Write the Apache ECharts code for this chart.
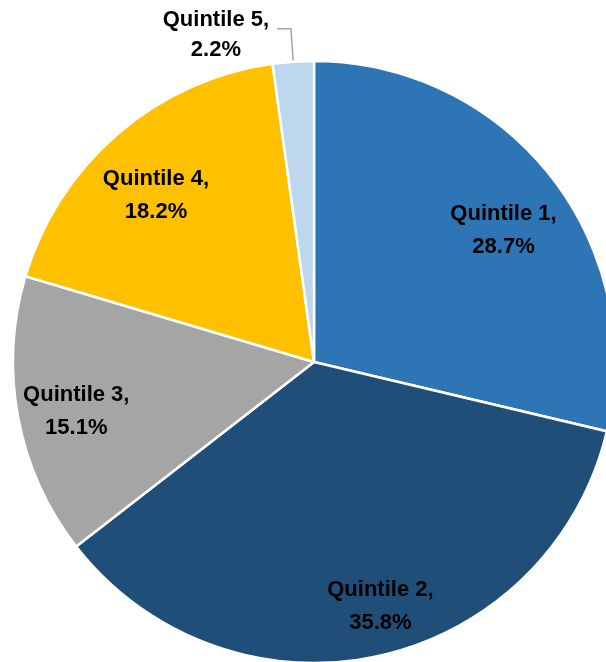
<!DOCTYPE html>
<html>
<head>
<meta charset="utf-8">
<script src="https://cdn.jsdelivr.net/npm/echarts@6/dist/echarts.min.js"></script>
<style>
html,body{margin:0;padding:0;background:#fff;}
#chart{width:606px;height:662px;}
</style>
</head>
<body>
<div id="chart"></div>
<script>
const categories = ['Quintile 1', 'Quintile 2', 'Quintile 3', 'Quintile 4', 'Quintile 5'];
const values = [28.7, 35.8, 15.1, 18.2, 2.2];
const colors = ['#2E75B6', '#1F4E79', '#A5A5A5', '#FFC000', '#BDD7EE'];
const outsideLabels = ['Quintile 5'];

const FONT = '"Liberation Sans", Arial, sans-serif';
const R = 301;
const center = [314, 362];
// small label nudges (styling only)
const labelOffsets = { 'Quintile 1': [3, 16], 'Quintile 2': [16, 12], 'Quintile 3': [-4, 6], 'Quintile 4': [-3, 14], 'Quintile 5': [-3, 6] };

const mainData = categories.map((c, i) => ({
  name: c,
  value: values[i],
  itemStyle: { color: colors[i] },
  label: outsideLabels.includes(c) ? {
    show: true,
    position: 'outside',
    offset: labelOffsets[c],
    formatter: p => '{a|' + p.name + ',}\n{a|' + p.value.toFixed(1) + '%}',
    rich: { a: { width: 106, align: 'center', fontSize: 22, fontWeight: 'bold', fontFamily: FONT, color: '#000', lineHeight: 30 } }
  } : { show: false },
  labelLine: outsideLabels.includes(c) ? { show: true, length: 33, length2: 14, lineStyle: { color: '#A6A6A6', width: 1.5 } } : { show: false }
}));

const labelData = categories.map((c, i) => ({
  name: c,
  value: values[i],
  itemStyle: { color: 'rgba(0,0,0,0)', borderWidth: 0 },
  label: { show: !outsideLabels.includes(c), offset: labelOffsets[c] }
}));

const chart = echarts.init(document.getElementById('chart'), null, { renderer: 'canvas' });
chart.setOption({
  animation: false,
  backgroundColor: '#ffffff',
  series: [
    {
      type: 'pie',
      center: center,
      radius: [0, R],
      startAngle: 90,
      clockwise: true,
      avoidLabelOverlap: false,
      itemStyle: { borderColor: '#ffffff', borderWidth: 2.5 },
      data: mainData
    },
    {
      type: 'pie',
      center: center,
      radius: [R * 0.56, R],
      startAngle: 90,
      clockwise: true,
      silent: true,
      avoidLabelOverlap: false,
      label: {
        position: 'inside',
        formatter: p => p.name + ',\n' + p.value.toFixed(1) + '%',
        fontSize: 22,
        fontWeight: 'bold',
        fontFamily: FONT,
        color: '#000',
        lineHeight: 33,
        align: 'center'
      },
      labelLine: { show: false },
      data: labelData
    }
  ]
});
</script>
</body>
</html>
